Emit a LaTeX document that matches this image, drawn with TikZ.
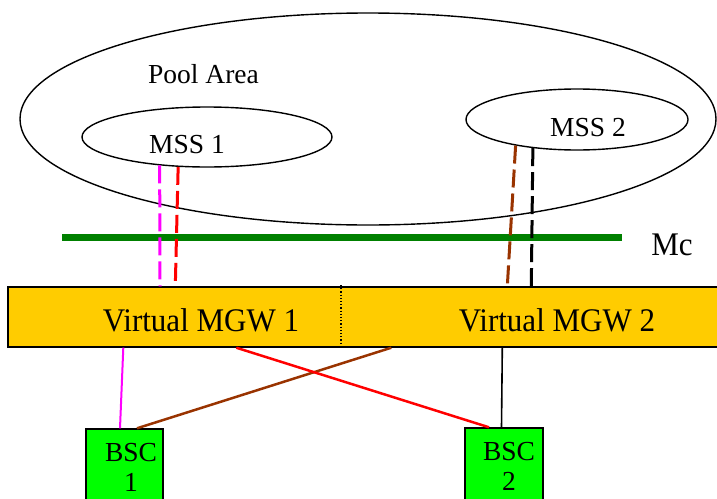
\documentclass[tikz,border=0pt]{standalone}
\usepackage{fontspec}
\setmainfont{Liberation Serif}
\newfontfamily\timesfont{Liberation Serif}
\usetikzlibrary{shapes.geometric}

\definecolor{mgwyellow}{RGB}{255,204,0}
\definecolor{bscgreen}{RGB}{0,255,0}
\definecolor{mcgreen}{RGB}{0,128,0}
\definecolor{linkbrown}{RGB}{153,51,0}
\definecolor{linkpink}{RGB}{255,0,255}
\definecolor{linkred}{RGB}{255,0,0}

\newcommand{\narrowtext}[1]{\scalebox{0.94}[1]{#1}}

\begin{document}
\begin{tikzpicture}[x=1pt,y=-1pt,
                    area/.style={ellipse, draw, line width=1.4pt, inner sep=0pt},
                    bsc/.style={draw, fill=bscgreen, line width=1.4pt, inner sep=0pt, minimum width=77pt, minimum height=76pt},
                    lbl/.style={inner sep=0pt, font=\timesfont\fontsize{#1}{30}\selectfont},
                    mclink/.style={line width=3pt, dash pattern=on 18pt off 6pt}]
                      \useasboundingbox (0,0) rectangle (717,498);
                      \clip (0,0) rectangle (717,498);

                      \node[area, minimum width=696pt, minimum height=212pt] (pool) at (368,119) {};
                      \node[lbl=27.5] (pooltext) at (203.5,74.5) {Pool Area};
                      \node[area, minimum width=250pt, minimum height=60pt] (mss1) at (207,137) {};
                      \node[lbl=27.5] (mss1text) at (187,144.5) {MSS 1};
                      \node[area, minimum width=222pt, minimum height=61pt] (mss2) at (577,119.5) {};
                      \node[lbl=27.5] (mss2text) at (588,128) {MSS 2};

                      \draw[mcgreen, line width=7pt] (62,237) -- (622,237);
                      \node[lbl=33] (mc) at (672,245) {\narrowtext{Mc}};

                      \node[draw, fill=mgwyellow, line width=1.4pt, inner sep=0pt, minimum width=717pt, minimum height=60pt] (mgw) at (366.5,317) {};
                      \draw[dotted, line width=1.2pt] (341,285) -- (341,343);
                      \node[lbl=33] (mgw1) at (201,320) {\narrowtext{Virtual MGW 1}};
                      \node[lbl=33] (mgw2) at (557,320) {\narrowtext{Virtual MGW 2}};

                      \node[bsc] (bsc1) at (124.5,467) {};
                      \node[bsc, minimum width=78pt] (bsc2) at (504,466) {};
                      \node[lbl=27.5, align=center] (bsc1text) at (131,467) {BSC\\1};
                      \node[lbl=27.5, align=center] (bsc2text) at (509,466) {BSC\\2};

                      \path (mss1.211.9)                 edge[mclink, linkpink]                ([xshift=152.7pt]mgw.north west)
                            (mss1.226.2)                 edge[mclink, linkred]                 ([xshift=168pt]mgw.north west)
                            (mss2.203)                   edge[mclink, linkbrown]               ([xshift=500pt]mgw.north west)
                            (mss2.213.9)                 edge[mclink, black]                   ([xshift=524pt]mgw.north west)
                            ([xshift=116pt]mgw.south west) edge[linkpink, line width=2pt]      ([xshift=-4.5pt]bsc1.north)
                            ([xshift=384pt]mgw.south west) edge[linkbrown, line width=2.5pt]   ([xshift=12.5pt]bsc1.north)
                            ([xshift=229pt]mgw.south west) edge[linkred, line width=2.5pt]     ([xshift=-15pt]bsc2.north)
                            ([xshift=495pt]mgw.south west) edge[black, line width=1.6pt]       ([xshift=-2.5pt]bsc2.north);
                  \end{tikzpicture}
\end{document}
